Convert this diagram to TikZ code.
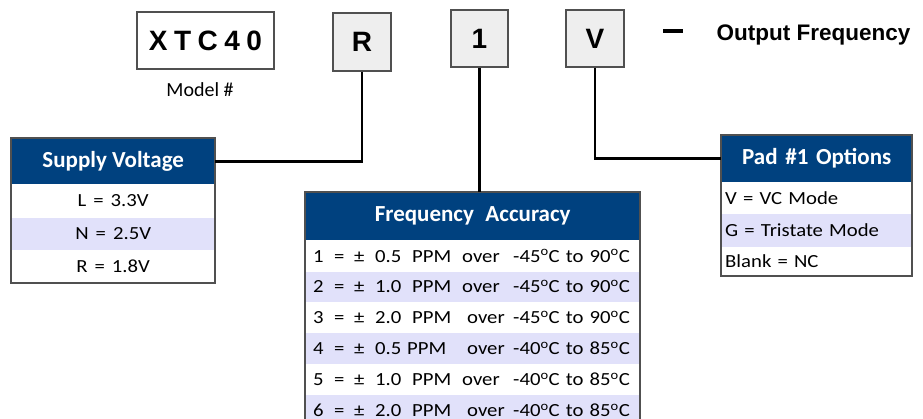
\documentclass[tikz,border=0pt]{standalone}
\usepackage{fontspec}
\setmainfont{Carlito}
\newfontfamily\bodyfont{Carlito}[FakeStretch=1.12]
\newfontfamily\arialfont{Liberation Sans}
\usetikzlibrary{positioning}
\definecolor{hdrblue}{HTML}{00417F}
\definecolor{rowlav}{HTML}{E1E1FA}
\definecolor{boxgray}{HTML}{EEEEEE}
\definecolor{edgegray}{HTML}{505050}
\newcommand{\dg}{\textsuperscript{o}}
\newcommand{\accrow}[6]{\makebox[21pt][l]{#1}\makebox[20pt][l]{=}\makebox[21pt][l]{±}\makebox[#3pt][l]{#2}\makebox[#4pt][l]{PPM}\makebox[#5pt][l]{over}#6}

\tikzset{
  codebox/.style={draw=edgegray, line width=1.3pt, fill=boxgray, minimum width=58pt, minimum height=58pt, inner sep=0pt, font=\arialfont\bfseries\fontsize{28}{30}\selectfont},
  hdr/.style={fill=hdrblue, text=white, inner sep=0pt, font=\bfseries\fontsize{23}{26}\selectfont},
  optrow/.style={inner sep=0pt, font=\bodyfont\fontsize{18.5}{22}\selectfont},
  shade/.style={fill=rowlav},
  supcol/.style={minimum width=204pt},
  acccol/.style={minimum width=335pt, text width=319pt, inner xsep=8pt, align=left},
  padcol/.style={minimum width=191pt, text width=183pt, inner xsep=4pt, align=left},
  tblframe/.style={draw=edgegray, line width=2pt},
  wire/.style={line width=2.6pt}
}

\begin{document}
\begin{tikzpicture}[x=1pt, y=-1pt]
		%%%%% START %%%%%
		\useasboundingbox (0,0) rectangle (923,418);
		
		% part number boxes
		\node[codebox, fill=white, minimum width=137pt, minimum height=57pt] (model) at (205.5,40.5) {X\kern6.5pt T\kern6.5pt C\kern6.5pt 4\kern6.5pt 0};
		\node[font=\fontsize{20}{22}\selectfont] (modelLbl) at (200,90) {Model \#};
		\node[codebox] (codeR) at (362,42) {R};
		\node[codebox, minimum width=57pt, minimum height=57pt] (codeOne) at (479.5,38.5) {1};
		\node[codebox, minimum height=57pt] (codeV) at (595,38.5) {V};
		
		\fill (663,29) rectangle (683,33);
		\node[font=\arialfont\bfseries\fontsize{22.5}{26}\selectfont, anchor=west] (outFreq) at (713,35) {Output Frequency};
		
		% supply voltage
		\node[hdr, supcol, minimum height=46pt, anchor=north west] (supHdr) at (11,138) {Supply Voltage};
		\node[optrow, supcol, minimum height=32.5pt, below=0pt of supHdr] (supL) {L\hspace{7pt}=\hspace{7pt}3.3V};
		\node[optrow, supcol, shade, minimum height=32.5pt, below=0pt of supL] (supN) {N\hspace{7pt}=\hspace{7pt}2.5V};
		\node[optrow, supcol, minimum height=32.5pt, below=0pt of supN] (supR) {R\hspace{7pt}=\hspace{7pt}1.8V};
		\draw[tblframe] (supHdr.north west) rectangle (supR.south east);
		
		% frequency accuracy
		\node[hdr, acccol, align=center, minimum height=48pt, anchor=north west] (accHdr) at (305,192) {Frequency\, Accuracy};
		\node[optrow, acccol, minimum height=30.5pt, below=0pt of accHdr] (accA) {\accrow{1}{0.5}{37}{50}{51}{-45\dg C to 90\dg C}};
		\node[optrow, acccol, shade, minimum height=30.5pt, below=0pt of accA] (accB) {\accrow{2}{1.0}{37}{50}{51}{-45\dg C to 90\dg C}};
		\node[optrow, acccol, minimum height=30.5pt, below=0pt of accB] (accC) {\accrow{3}{2.0}{37}{55}{46}{-45\dg C to 90\dg C}};
		\node[optrow, acccol, shade, minimum height=30.5pt, below=0pt of accC] (accD) {\accrow{4}{0.5}{32}{60}{46}{-40\dg C to 85\dg C}};
		\node[optrow, acccol, minimum height=30.5pt, below=0pt of accD] (accE) {\accrow{5}{1.0}{37}{50}{51}{-40\dg C to 85\dg C}};
		\node[optrow, acccol, shade, minimum height=30.5pt, below=0pt of accE] (accF) {\accrow{6}{2.0}{37}{55}{46}{-40\dg C to 85\dg C}};
		\draw[tblframe] (accHdr.north west) rectangle (accF.south east);
		
		% pad 1 options
		\node[hdr, padcol, align=center, minimum height=47pt, anchor=north west] (padHdr) at (721,135) {Pad \#1 Options};
		\node[optrow, padcol, minimum height=31pt, below=0pt of padHdr] (padV) {V = VC Mode};
		\node[optrow, padcol, shade, minimum height=33pt, below=0pt of padV] (padG) {G = Tristate Mode};
		\node[optrow, padcol, minimum height=28pt, below=0pt of padG] (padB) {Blank = NC};
		\draw[tblframe] (padHdr.north west) rectangle (padB.south east);
		
		% connectors
		\draw[wire] (codeR.south) |- (supHdr.east);
		\draw[wire] (codeOne.south) -- (codeOne.south |- accHdr.north);
		\draw[wire] (codeV.south) |- (padHdr.west);
		
		%%%%% END %%%%%
	\end{tikzpicture}
\end{document}
